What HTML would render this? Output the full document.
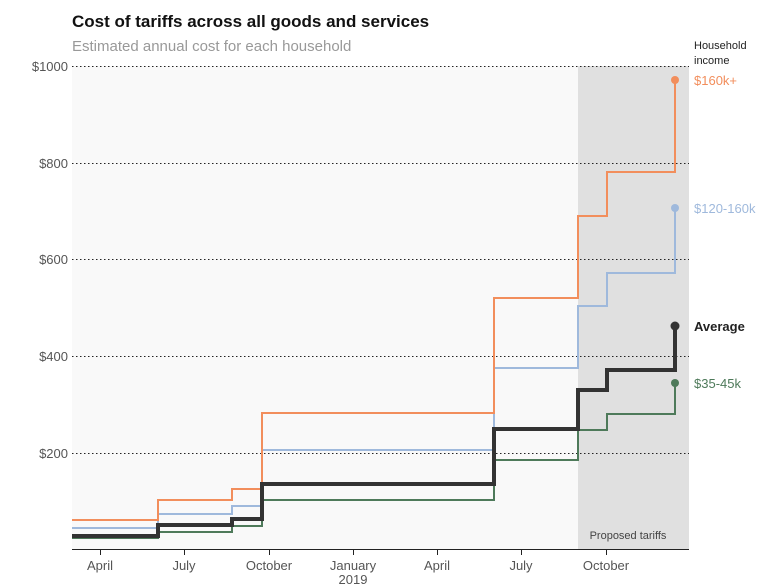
<!DOCTYPE html>
<html><head><meta charset="utf-8"><style>
html,body{margin:0;padding:0;background:#fff;width:767px;height:585px;overflow:hidden;font-family:"Liberation Sans",sans-serif}
</style></head><body>
<svg width="767" height="585" xmlns="http://www.w3.org/2000/svg" font-family="Liberation Sans, sans-serif">
<text x="72" y="27" font-size="17" font-weight="bold" fill="#111">Cost of tariffs across all goods and services</text>
<text x="72" y="51" font-size="15" fill="#999">Estimated annual cost for each household</text>
<rect x="72" y="66" width="506" height="483" fill="#f9f9f9"/>
<rect x="578" y="66" width="111" height="483" fill="#e0e0e0"/>
<g stroke="#222" stroke-width="1" stroke-dasharray="1.5,2.5">
<line x1="72" x2="689" y1="66.5" y2="66.5"/>
<line x1="72" x2="689" y1="163.5" y2="163.5"/>
<line x1="72" x2="689" y1="259.5" y2="259.5"/>
<line x1="72" x2="689" y1="356.5" y2="356.5"/>
<line x1="72" x2="689" y1="453.5" y2="453.5"/>
</g>
<g font-size="13" fill="#555" text-anchor="end">
<text x="68" y="71">$1000</text><text x="68" y="168">$800</text><text x="68" y="264">$600</text><text x="68" y="361">$400</text><text x="68" y="458">$200</text>
</g>
<text x="628" y="539" font-size="11" fill="#444" text-anchor="middle">Proposed tariffs</text>
<line x1="72" x2="689" y1="549.5" y2="549.5" stroke="#222" stroke-width="1"/>
<g stroke="#222"><line x1="100.5" x2="100.5" y1="549" y2="555"/><line x1="184.5" x2="184.5" y1="549" y2="555"/><line x1="269.5" x2="269.5" y1="549" y2="555"/><line x1="353.5" x2="353.5" y1="549" y2="555"/><line x1="437.5" x2="437.5" y1="549" y2="555"/><line x1="521.5" x2="521.5" y1="549" y2="555"/><line x1="606.5" x2="606.5" y1="549" y2="555"/></g>
<g font-size="13" fill="#555" text-anchor="middle">
<text x="100" y="570">April</text><text x="184" y="570">July</text><text x="269" y="570">October</text><text x="353" y="570">January</text><text x="353" y="584">2019</text><text x="437" y="570">April</text><text x="521" y="570">July</text><text x="606" y="570">October</text>
</g>
<g fill="none" stroke-linejoin="miter">
<polyline stroke="#4e7a5a" stroke-width="2" points="72,538 158,538 158,532 232,532 232,526 262,526 262,500 494,500 494,460 578,460 578,430 607,430 607,414 675,414 675,383"/>
<polyline stroke="#9fb9dc" stroke-width="2" points="72,528 158,528 158,514 232,514 232,506 262,506 262,450 494,450 494,368 578,368 578,306 607,306 607,273 675,273 675,208"/>
<polyline stroke="#f28e5c" stroke-width="2" points="72,520 158,520 158,500 232,500 232,489 262,489 262,413 494,413 494,298 578,298 578,216 607,216 607,172 675,172 675,80"/>
<polyline stroke="#333" stroke-width="4" points="72,536 158,536 158,525 232,525 232,519 262,519 262,484 494,484 494,429 578,429 578,390 607,390 607,370 675,370 675,326"/>
</g>
<circle cx="675" cy="80" r="4" fill="#f28e5c"/><circle cx="675" cy="208" r="4" fill="#9fb9dc"/><circle cx="675" cy="326" r="4.5" fill="#333"/><circle cx="675" cy="383" r="4" fill="#4e7a5a"/>
<text x="694" y="49" font-size="11" fill="#222">Household</text><text x="694" y="64" font-size="11" fill="#222">income</text>
<text x="694" y="85" font-size="13" fill="#f28e5c">$160k+</text>
<text x="694" y="213" font-size="13" fill="#9fb9dc">$120-160k</text>
<text x="694" y="331" font-size="13" font-weight="bold" fill="#222">Average</text>
<text x="694" y="388" font-size="13" fill="#4e7a5a">$35-45k</text>
</svg>
</body></html>
